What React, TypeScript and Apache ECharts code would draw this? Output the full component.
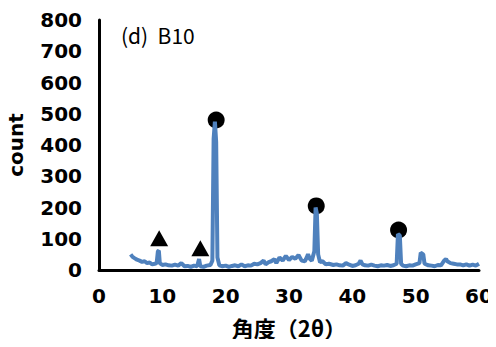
import React, { useEffect, useRef } from "react";
import * as echarts from "echarts";

const angles = [
  5.0, 5.3, 5.6, 6.0, 6.4, 6.8, 7.2, 7.6, 8.0, 8.4, 8.8, 9.1, 9.3, 9.45, 9.6, 10.0, 10.5, 11, 11.5, 12, 12.5, 13, 13.5, 14, 14.5, 15, 15.5, 15.8, 16.0, 16.5, 17, 17.6, 17.9, 18.1, 18.3, 18.5, 18.7, 19, 19.5, 20, 20.5, 21, 21.5, 22, 22.5, 23, 23.5, 24, 24.5, 25, 25.5, 26, 26.3, 26.8, 27.2, 27.7, 28, 28.5, 29, 29.5, 30, 30.5, 31, 31.5, 32, 32.5, 32.8, 33, 33.3, 33.6, 34.0, 34.2, 34.4, 34.6, 34.9, 35.3, 35.8, 36.3, 37, 37.5, 38, 38.5, 39, 39.5, 40, 40.5, 41, 41.3, 41.6, 42, 42.5, 43, 43.5, 44, 44.5, 45, 45.5, 46, 46.5, 47, 47.2, 47.5, 47.7, 48, 48.5, 49, 49.5, 50, 50.6, 50.8, 51.2, 51.4, 52, 52.5, 53, 53.5, 54, 54.5, 54.8, 55, 55.5, 56, 56.5, 57, 57.5, 58, 58.5, 59, 59.5, 60,
];
const counts = [
  50, 42, 38, 33, 30, 26, 28, 22, 24, 18, 20, 22, 60, 62, 22, 16, 18, 15, 14, 17, 14, 22, 12, 13, 10, 14, 12, 35, 12, 10, 14, 16, 30, 420, 475, 410, 40, 15, 12, 14, 10, 13, 15, 12, 18, 12, 15, 14, 20, 18, 22, 30, 18, 25, 28, 35, 22, 40, 30, 45, 32, 42, 36, 48, 30, 28, 40, 50, 35, 30, 60, 200, 180, 50, 25, 28, 18, 20, 16, 18, 15, 14, 22, 17, 13, 15, 20, 30, 18, 15, 14, 17, 14, 12, 15, 14, 16, 13, 15, 20, 115, 110, 20, 14, 12, 15, 14, 18, 22, 55, 50, 20, 15, 14, 12, 16, 15, 30, 35, 28, 22, 20, 18, 18, 15, 18, 14, 17, 14, 20,
];

const triangleX = [9.5, 16.0];
const triangleY = [102, 70];
const circleX = [18.5, 34.3, 47.3];
const circleY = [480, 205, 128];

const xTicks = [0, 10, 20, 30, 40, 50, 60];
const yTicks = [0, 100, 200, 300, 400, 500, 600, 700, 800];

export default function App() {
  const ref = useRef<HTMLDivElement>(null);
  useEffect(() => {
    if (!ref.current) return;
    const chart = echarts.init(ref.current, null, { renderer: "svg" });
    const labelFont = {
      fontFamily: "DejaVu Sans",
      fontWeight: "bold" as const,
      fontSize: 20,
      color: "#000",
    };
    chart.setOption({
      animation: false,
      grid: { left: 99, right: 17, top: 20, bottom: 77, outerBoundsMode: "none" },
      xAxis: {
        type: "value",
        min: xTicks[0],
        max: xTicks[xTicks.length - 1],
        interval: 10,
        axisLine: { show: true, lineStyle: { color: "#000", width: 3 } },
        axisTick: { show: false },
        splitLine: { show: false },
        axisLabel: { ...labelFont, margin: 16 },
        name: "角度（2θ）",
        nameLocation: "middle",
        nameGap: 45,
        nameTextStyle: {
          fontFamily: "Noto Sans CJK JP",
          fontWeight: "bold",
          fontSize: 22,
          lineHeight: 24,
          color: "#000",
        },
      },
      yAxis: {
        type: "value",
        min: yTicks[0],
        max: yTicks[yTicks.length - 1],
        interval: 100,
        axisLine: { show: true, lineStyle: { color: "#000", width: 3 } },
        axisTick: { show: false },
        splitLine: { show: false },
        axisLabel: { ...labelFont, margin: 17 },
        name: "count",
        nameLocation: "middle",
        nameGap: 73,
        nameRotate: 90,
        nameTextStyle: {
          fontFamily: "DejaVu Sans",
          fontWeight: "bold",
          fontSize: 20,
          color: "#000",
        },
      },
      graphic: [
        {
          type: "text",
          left: 121,
          top: 24,
          style: {
            text: "(d)  B10",
            fontFamily: "Noto Sans CJK JP",
            fontSize: 21,
            fill: "#000",
          },
        },
      ],
      series: [
        {
          type: "line",
          data: angles.map((a, i) => [a, counts[i]]),
          showSymbol: false,
          symbol: "none",
          lineStyle: { color: "#4f81bd", width: 4 },
        },
        {
          type: "scatter",
          data: triangleX.map((a, i) => [a, triangleY[i]]),
          symbol: "triangle",
          symbolSize: [18, 16],
          itemStyle: { color: "#000", opacity: 1 },
        },
        {
          type: "scatter",
          data: circleX.map((a, i) => [a, circleY[i]]),
          symbol: "circle",
          symbolSize: 17,
          itemStyle: { color: "#000", opacity: 1 },
        },
      ],
    });
    return () => chart.dispose();
  }, []);
  return <div ref={ref} style={{ width: 496, height: 347, margin: -8 }} />;
}
